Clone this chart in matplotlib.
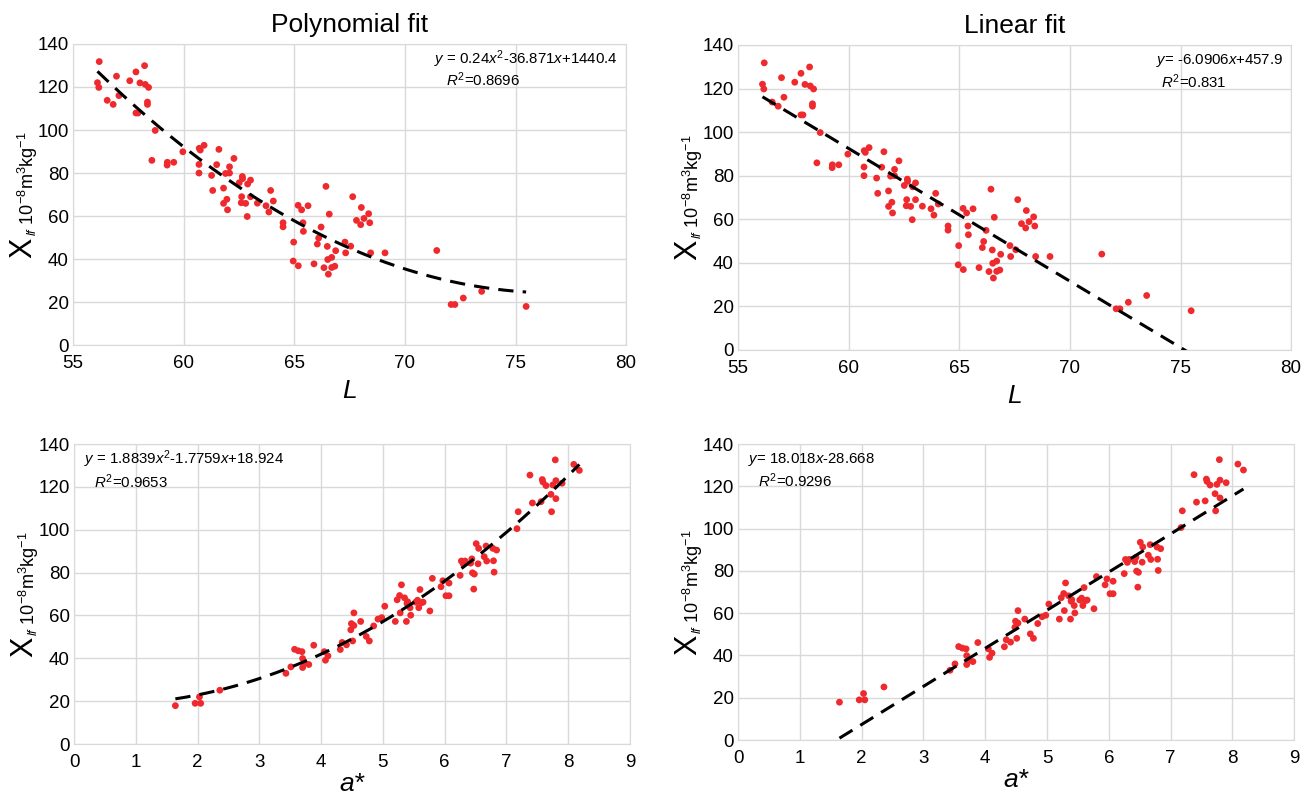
import matplotlib
matplotlib.use('Agg')
import matplotlib.pyplot as plt
import numpy as np

# L (lightness) vs X_lf
L_vals = [56.10, 56.18, 56.16, 56.54, 56.81, 56.96, 57.07, 57.56, 57.84, 57.84,
          57.93, 58.02, 58.23, 58.26, 58.41, 58.36, 58.36, 58.71, 58.56, 59.25,
          59.26, 59.55, 59.96, 60.69, 60.69, 60.70, 60.75, 60.92, 61.26, 61.31,
          61.49, 61.59, 61.80, 61.80, 61.89, 61.95, 61.98, 62.07, 62.07, 62.27,
          62.51, 62.65, 62.66, 62.62, 62.60, 62.80, 62.87, 62.89, 63.02, 63.02,
          63.33, 63.72, 63.85, 63.93, 64.05, 64.49, 64.49, 64.95, 64.97, 65.18,
          65.17, 65.33, 65.39, 65.41, 65.62, 65.89, 66.04, 66.10, 66.21, 66.43,
          66.34, 66.49, 66.51, 66.54, 66.58, 66.69, 66.69, 66.83, 66.87, 67.29,
          67.32, 67.55, 67.64, 67.81, 68.00, 68.03, 68.15, 68.36, 68.41, 68.45,
          69.10, 71.44, 72.09, 72.26, 72.64, 73.47, 75.48]
X_L = [122.0, 131.8, 119.8, 113.8, 111.9, 125.0, 116.0, 122.9, 127.0, 107.9,
       107.9, 121.9, 129.9, 121.2, 119.8, 113.0, 111.9, 99.8, 85.9, 83.7,
       85.0, 85.0, 89.9, 84.0, 80.0, 91.5, 90.7, 92.9, 78.9, 71.9,
       83.9, 91.0, 65.9, 73.0, 79.8, 67.8, 62.9, 82.9, 80.0, 86.8,
       75.5, 78.4, 77.4, 69.0, 66.2, 65.9, 59.8, 74.9, 76.7, 69.0,
       66.0, 64.8, 61.9, 71.9, 67.0, 55.0, 56.9, 39.1, 47.9, 36.9,
       65.0, 62.9, 56.9, 52.9, 64.8, 37.8, 47.0, 49.8, 54.9, 73.8,
       36.0, 45.9, 39.8, 33.0, 60.9, 40.8, 36.1, 36.7, 43.9, 47.9,
       42.9, 46.0, 69.0, 58.0, 56.0, 64.0, 58.9, 61.1, 56.9, 42.9,
       42.9, 44.0, 18.9, 18.9, 21.9, 25.0, 18.0]

# a* (redness) vs X_lf
a_vals = [1.64, 1.96, 2.05, 2.03, 2.36, 3.43, 3.51, 3.57, 3.63, 3.69,
          3.70, 3.70, 3.73, 3.80, 3.88, 4.07, 4.05, 4.11, 4.31, 4.34,
          4.41, 4.51, 4.48, 4.49, 4.53, 4.53, 4.64, 4.73, 4.78, 4.85,
          4.92, 4.98, 5.03, 5.20, 5.23, 5.27, 5.30, 5.28, 5.35, 5.38,
          5.39, 5.40, 5.44, 5.45, 5.53, 5.56, 5.58, 5.60, 5.62, 5.65,
          5.76, 5.80, 5.94, 5.97, 6.02, 6.07, 6.07, 6.25, 6.27, 6.30,
          6.33, 6.42, 6.45, 6.48, 6.47, 6.44, 6.51, 6.55, 6.54, 6.64,
          6.67, 6.68, 6.79, 6.78, 6.80, 6.84, 7.17, 7.19, 7.38, 7.42,
          7.56, 7.58, 7.59, 7.64, 7.72, 7.73, 7.75, 7.79, 7.80, 7.80,
          7.90, 8.09, 8.18]
X_a = [17.9, 19.0, 19.0, 22.0, 25.1, 33.0, 36.0, 44.2, 43.5, 43.1,
       39.9, 35.7, 37.7, 37.1, 46.1, 39.1, 43.1, 41.1, 44.1, 47.4,
       46.3, 48.1, 53.3, 56.2, 55.3, 61.2, 57.2, 50.2, 48.1, 55.1,
       58.3, 59.0, 64.3, 57.2, 67.3, 69.3, 74.3, 61.2, 68.2, 57.2,
       65.6, 66.4, 63.6, 60.1, 66.2, 67.1, 63.6, 72.1, 65.9, 66.2,
       62.1, 77.3, 73.4, 76.2, 69.2, 75.1, 69.2, 78.7, 85.4, 84.0,
       85.4, 84.4, 79.9, 79.3, 72.3, 86.4, 93.5, 91.3, 84.1, 87.4,
       92.4, 85.4, 85.5, 91.3, 80.2, 90.5, 100.5, 108.4, 125.5, 112.5,
       113.1, 123.4, 122.3, 120.6, 116.5, 108.4, 120.9, 132.6, 122.9, 114.5,
       121.7, 130.5, 127.7]

# trend line coefficients as printed on the chart
poly_L = [0.24, -36.871, 1440.4]
lin_L = [-6.0906, 457.9]
poly_a = [1.8839, -1.7759, 18.924]
lin_a = [18.018, -28.668]

eq_poly_L = r'$y$ = 0.24$x^2$-36.871$x$+1440.4'
r2_poly_L = r'$R^2$=0.8696'
eq_lin_L = r'$y$= -6.0906$x$+457.9'
r2_lin_L = r'$R^2$=0.831'
eq_poly_a = r'$y$ = 1.8839$x^2$-1.7759$x$+18.924'
r2_poly_a = r'$R^2$=0.9653'
eq_lin_a = r'$y$= 18.018$x$-28.668'
r2_lin_a = r'$R^2$=0.9296'

plt.rcParams['font.family'] = ['Liberation Sans', 'DejaVu Sans']
plt.rcParams['mathtext.fontset'] = 'custom'
plt.rcParams['mathtext.rm'] = 'Liberation Sans'
plt.rcParams['mathtext.it'] = 'Liberation Sans:italic'
plt.rcParams['mathtext.bf'] = 'Liberation Sans:bold'

ylab_big = 'X'
ylab_rest = r'$_{lf}$ 10$^{-8}$m$^3$kg$^{-1}$'
grid_c = '#d9d9d9'
dot_c = '#ee2a2e'

W, H = 1306, 799
fig = plt.figure(figsize=(W / 100, H / 100), dpi=100)
renderer = fig.canvas.get_renderer()

# [left, bottom, width, height]
boxes = [[0.0560, 0.568, 0.4234, 0.377],
         [0.5652, 0.562, 0.4234, 0.3817],
         [0.0567, 0.0688, 0.4257, 0.3755],
         [0.5652, 0.0738, 0.4257, 0.3705]]


def style(ax, xlim, xticks, xlabel, lpad):
    ax.set_xlim(*xlim)
    ax.set_ylim(0, 140)
    ax.set_xticks(xticks)
    ax.set_yticks(range(0, 141, 20))
    ax.grid(True, color=grid_c, lw=1.0)
    ax.set_axisbelow(True)
    for s in ax.spines.values():
        s.set_color(grid_c)
    ax.tick_params(axis='x', length=0, labelsize=13.5, pad=7)
    ax.tick_params(axis='y', length=0, labelsize=13.5, pad=3)
    ax.set_xlabel(xlabel, fontsize=19, style='italic', labelpad=lpad)


def y_label(box):
    # big X followed by the smaller unit text, both rotated, centred on axes
    cy = (box[1] + box[3] / 2) * H
    xb = box[0] * W - 42
    t1 = fig.text(xb / W, 0, ylab_big, fontsize=22, rotation=90,
                  rotation_mode='anchor', ha='left', va='baseline')
    t2 = fig.text((xb + 3) / W, 0, ylab_rest, fontsize=13, rotation=90,
                  rotation_mode='anchor', ha='left', va='baseline')
    l1 = t1.get_window_extent(renderer).height
    l2 = t2.get_window_extent(renderer).height
    y0 = cy - (l1 + l2 + 1) / 2
    t1.set_y(y0 / H)
    t2.set_y((y0 + l1 + 1) / H)


panels = [
    (L_vals, X_L, poly_L, (55, 80), range(55, 81, 5), 'L', eq_poly_L, r2_poly_L),
    (L_vals, X_L, lin_L, (55, 80), range(55, 81, 5), 'L', eq_lin_L, r2_lin_L),
    (a_vals, X_a, poly_a, (0, 9), range(0, 10), 'a*', eq_poly_a, r2_poly_a),
    (a_vals, X_a, lin_a, (0, 9), range(0, 10), 'a*', eq_lin_a, r2_lin_a),
]

for i, (xs, ys, coef, xlim, xt, xl, eq, r2) in enumerate(panels):
    ax = fig.add_axes(boxes[i])
    style(ax, xlim, xt, xl, 5 if i < 2 else 1)
    y_label(boxes[i])
    ax.scatter(xs, ys, s=24, color=dot_c, edgecolors='none', zorder=3)
    xf = np.linspace(min(xs), max(xs), 200)
    ax.plot(xf, np.polyval(coef, xf), color='black', lw=2.2,
            dashes=(5, 3), zorder=4)
    if i < 2:
        # equation in top right corner
        ax.text(0.985, 0.95, eq, transform=ax.transAxes, ha='right',
                va='center', fontsize=10.8)
        ax.text(0.985 - (0.31 if i == 0 else 0.22), 0.88, r2,
                transform=ax.transAxes, ha='left', va='center', fontsize=10.8)
    else:
        ax.text(0.017, 0.948, eq, transform=ax.transAxes, ha='left',
                va='center', fontsize=10.8)
        ax.text(0.035, 0.875, r2, transform=ax.transAxes, ha='left',
                va='center', fontsize=10.8)
    if i == 0:
        ax.set_title('Polynomial fit', fontsize=19, pad=8.5)
    elif i == 1:
        ax.set_title('Linear fit', fontsize=19, pad=8.5)

plt.savefig('out.png', dpi=100)
